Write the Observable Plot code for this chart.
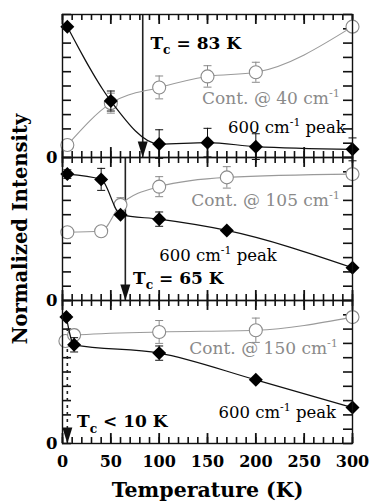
<!DOCTYPE html>
<html><head><meta charset="utf-8">
<script src="https://cdn.jsdelivr.net/npm/d3@7"></script>
<script src="https://cdn.jsdelivr.net/npm/@observablehq/plot@0.6"></script>
<style>
html,body{margin:0;padding:0;background:#fff;}
#chart{width:374px;height:504px;}
</style></head><body><div id="chart"></div>
<script>
// ---- data ----
const panels = ["p40", "p105", "p150"];

// panel 1 : Cont. @ 40 cm-1 / 600 cm-1 peak
const peakT1 = [5, 50, 100, 150, 200, 300];
const peakV1 = [0.915, 0.395, 0.094, 0.104, 0.076, 0.057];
const peakE1 = [0, 0.07, 0.10, 0.10, 0.09, 0.08];
const contT1 = [5, 50, 100, 150, 200, 300];
const contV1 = [0.087, 0.38, 0.49, 0.567, 0.596, 0.915];
const contE1 = [0, 0.07, 0.08, 0.075, 0.07, 0.03];

// panel 2 : Cont. @ 105 cm-1 / 600 cm-1 peak
const peakT2 = [5, 40, 60, 100, 170, 300];
const peakV2 = [0.884, 0.847, 0.60, 0.569, 0.49, 0.229];
const peakE2 = [0.03, 0.077, 0, 0.05, 0, 0];
const contT2 = [5, 40, 60, 100, 170, 300];
const contV2 = [0.477, 0.484, 0.669, 0.796, 0.861, 0.884];
const contE2 = [0, 0, 0.05, 0.07, 0.075, 0.03];

// panel 3 : Cont. @ 150 cm-1 / 600 cm-1 peak
const peakT3 = [4, 12, 100, 200, 300];
const peakV3 = [0.884, 0.69, 0.632, 0.445, 0.251];
const peakE3 = [0, 0.05, 0.05, 0, 0];
const contT3 = [3, 12, 100, 200, 300];
const contV3 = [0.717, 0.758, 0.78, 0.792, 0.884];
const contE3 = [0, 0.04, 0.08, 0.085, 0.03];

// Tc arrows
const tcPanel = ["p40", "p105", "p150"];
const tcValue = [83, 65, 5];
const tcDashed = [false, false, true];

// annotations (data coordinates)
const noteText  = ["T_c = 83 K", "Cont. @ 40 cm^-1", "600 cm^-1 peak",
                   "Cont. @ 105 cm^-1", "600 cm^-1 peak", "T_c = 65 K",
                   "Cont. @ 150 cm^-1", "600 cm^-1 peak", "T_c < 10 K"];
const notePanel = ["p40", "p40", "p40", "p105", "p105", "p105", "p150", "p150", "p150"];
const noteT     = [91, 287, 293, 287, 100, 73, 285, 283, 15];
const noteV     = [0.761, 0.371, 0.17, 0.658, 0.278, 0.113, 0.623, 0.178, 0.112];
const noteKind  = ["tc", "cont", "peakEnd", "cont", "peakStart", "tc", "cont", "peakEnd", "tc"];

const xMajor = [0, 50, 100, 150, 200, 250, 300];
const xMinor = d3.range(0, 301, 10);
const yTicks = d3.range(0, 1.0001, 0.1);

// ---- tables ----
function rows(panel, T, V, E) { return T.map((t, i) => ({panel, T: t, v: V[i], e: E[i]})); }
const peak = [...rows("p40", peakT1, peakV1, peakE1), ...rows("p105", peakT2, peakV2, peakE2), ...rows("p150", peakT3, peakV3, peakE3)];
const cont = [...rows("p40", contT1, contV1, contE1), ...rows("p105", contT2, contV2, contE2), ...rows("p150", contT3, contV3, contE3)];
const tc = tcPanel.map((p, i) => ({panel: p, T: tcValue[i], dashed: tcDashed[i]}));
const notes = noteText.map((t, i) => ({text: t, panel: notePanel[i], T: noteT[i], v: noteV[i], kind: noteKind[i]}));
// tick tables, one copy per panel (faceted like the data marks)
const minorTicks = panels.flatMap(p => xMinor.map(t => ({panel: p, t})));
const majorTicks = panels.flatMap(p => xMajor.map(t => ({panel: p, t})));
const leftTicks = panels.flatMap(p => yTicks.map(t => ({panel: p, t})));

const capSymbol = {draw(ctx) { ctx.moveTo(-4, 0); ctx.lineTo(4, 0); }};
const headSymbol = {draw(ctx) { ctx.moveTo(-5, -16); ctx.lineTo(5, -16); ctx.lineTo(0, 0); ctx.closePath(); }};

const W = 374, H = 504, mT = 13, mR = 22, mB = 60, mL = 62;
const facetH = (H - mT - mB) / panels.length;
const frameW = W - mL - mR;
// tick lengths expressed in scale units (pixels -> domain units)
const minorLen = 6 / facetH, majorLen = 10 / facetH, yLen = 9 * 300 / frameW;

const serif = "DejaVu Serif";
const grey = "#8a8a8a";
const errP = peak.filter(d => d.e > 0);
const errC = cont.filter(d => d.e > 0);
const ink = "#111";

const chart = Plot.plot({
  width: W, height: H,
  marginTop: mT, marginRight: mR, marginBottom: mB, marginLeft: mL,
  x: {domain: [0, 300]},
  y: {domain: [0, 1]},
  fy: {domain: panels, padding: 0, axis: null},
  style: {background: "#fff"},
  marks: [
    // inward ticks (short rules, faceted per panel)
    Plot.ruleX(minorTicks, {x: "t", fy: "panel", y1: 1, y2: 1 - minorLen, stroke: ink, strokeWidth: 1.6}),
    Plot.ruleX(minorTicks, {x: "t", fy: "panel", y1: 0, y2: minorLen, stroke: ink, strokeWidth: 1.6}),
    Plot.ruleX(majorTicks, {x: "t", fy: "panel", y1: 1, y2: 1 - majorLen, stroke: ink, strokeWidth: 1.8}),
    Plot.ruleX(majorTicks, {x: "t", fy: "panel", y1: 0, y2: majorLen, stroke: ink, strokeWidth: 1.8}),
    Plot.ruleY(leftTicks, {y: "t", fy: "panel", x1: 0, x2: yLen, stroke: ink, strokeWidth: 1.6}),
    Plot.ruleY(leftTicks, {y: "t", fy: "panel", x1: 300 - yLen, x2: 300, stroke: ink, strokeWidth: 1.6}),
    // Tc arrows
    Plot.ruleX(tc.filter(d => !d.dashed), {x: "T", fy: "panel", stroke: "#222", strokeWidth: 1.6}),
    Plot.ruleX(tc.filter(d => d.dashed), {x: "T", fy: "panel", y1: 0, y2: 0.8, stroke: "#222", strokeWidth: 1.6, strokeDasharray: "3,4"}),
    Plot.dot(tc, {x: "T", fy: "panel", frameAnchor: "bottom", symbol: headSymbol, fill: "#111", stroke: "none"}),
    // continuum series
    Plot.line(cont, {x: "T", y: "v", fy: "panel", z: "panel", curve: "monotone-x", stroke: "#9a9a9a", strokeWidth: 1.1}),
    Plot.ruleX(errC, {x: "T", y1: d => d.v - d.e, y2: d => d.v + d.e, fy: "panel", stroke: grey, strokeWidth: 1}),
    Plot.dot(errC, {x: "T", y: d => d.v + d.e, fy: "panel", symbol: capSymbol, stroke: grey, strokeWidth: 1}),
    Plot.dot(errC, {x: "T", y: d => d.v - d.e, fy: "panel", symbol: capSymbol, stroke: grey, strokeWidth: 1}),
    Plot.dot(cont, {x: "T", y: "v", fy: "panel", r: 6.5, fill: "#fff", stroke: "#8a8a8a", strokeWidth: 1.1}),
    // 600 cm-1 peak
    Plot.line(peak, {x: "T", y: "v", fy: "panel", z: "panel", curve: "monotone-x", stroke: "#111", strokeWidth: 1.2}),
    Plot.ruleX(errP, {x: "T", y1: d => d.v - d.e, y2: d => d.v + d.e, fy: "panel", stroke: "#111", strokeWidth: 1}),
    Plot.dot(errP, {x: "T", y: d => d.v + d.e, fy: "panel", symbol: capSymbol, stroke: "#111", strokeWidth: 1}),
    Plot.dot(errP, {x: "T", y: d => d.v - d.e, fy: "panel", symbol: capSymbol, stroke: "#111", strokeWidth: 1}),
    Plot.dot(peak, {x: "T", y: "v", fy: "panel", symbol: "diamond2", r: 6.3, fill: "#000", stroke: "none"}),
    // annotations
    Plot.text(notes.filter(d => d.kind === "tc"), {x: "T", y: "v", fy: "panel", text: "text", textAnchor: "start", lineAnchor: "bottom", fontFamily: serif, fontWeight: "bold", fontSize: 17, fill: "#000"}),
    Plot.text(notes.filter(d => d.kind === "cont"), {x: "T", y: "v", fy: "panel", text: "text", textAnchor: "end", lineAnchor: "bottom", fontFamily: serif, fontSize: 17, fill: grey}),
    Plot.text(notes.filter(d => d.kind === "peakEnd"), {x: "T", y: "v", fy: "panel", text: "text", textAnchor: "end", lineAnchor: "bottom", fontFamily: serif, fontSize: 16.5, fill: "#000"}),
    Plot.text(notes.filter(d => d.kind === "peakStart"), {x: "T", y: "v", fy: "panel", text: "text", textAnchor: "start", lineAnchor: "bottom", fontFamily: serif, fontSize: 16.5, fill: "#000"}),
    // frame
    Plot.frame({stroke: ink, strokeWidth: 1.4}),
    // labels
    Plot.axisY({anchor: "left", ticks: [0], tickSize: 0, tickPadding: 5, tickFormat: () => "0", label: null, fontFamily: serif, fontWeight: "bold", fontSize: 16.5, fill: "#000"}),
    Plot.axisX({anchor: "bottom", ticks: xMajor, tickSize: 0, tickPadding: 12, tickFormat: d => String(d), label: null, fontFamily: serif, fontWeight: "bold", fontSize: 16, fill: "#000"}),
    Plot.axisX({anchor: "bottom", ticks: [], label: "Temperature (K)", labelAnchor: "center", labelArrow: "none", labelOffset: 53, fontFamily: serif, fontWeight: "bold", fontSize: 20.5, fill: "#000"}),
    Plot.axisFy({anchor: "left", ticks: [], label: "Normalized Intensity", labelAnchor: "center", labelArrow: "none", labelOffset: 49, fontFamily: serif, fontWeight: "bold", fontSize: 19.5, fill: "#000"})
  ]
});

// sub/superscripts in text
function richify(svg) {
  svg.querySelectorAll("text").forEach(node => {
    const s = node.textContent;
    if (!/[_^]/.test(s) || node.querySelector("tspan")) return;
    const fs = parseFloat(getComputedStyle(node).fontSize) || 16;
    const parts = s.split(/(_[a-z]+|\^-?\d+)/).filter(Boolean);
    node.textContent = "";
    let cur = 0;
    for (const p of parts) {
      const t = document.createElementNS("http://www.w3.org/2000/svg", "tspan");
      let target = 0, txt = p;
      if (p[0] === "_") { target = 0.3 * fs; txt = p.slice(1); t.setAttribute("font-size", 0.72 * fs); }
      else if (p[0] === "^") { target = -0.42 * fs; txt = p.slice(1); t.setAttribute("font-size", 0.66 * fs); }
      if (target !== cur) { t.setAttribute("dy", target - cur); cur = target; }
      t.textContent = txt;
      node.appendChild(t);
    }
  });
}
document.getElementById("chart").appendChild(chart);
richify(chart);
</script>
</body></html>
